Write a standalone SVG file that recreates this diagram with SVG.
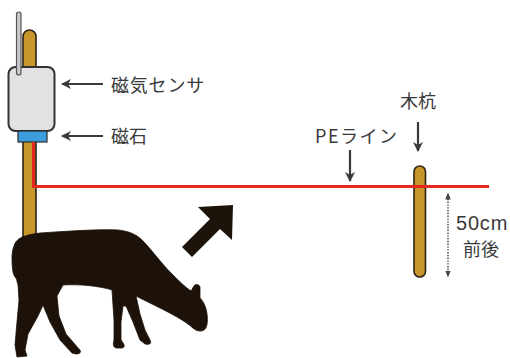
<svg xmlns="http://www.w3.org/2000/svg" width="510" height="358" viewBox="0 0 510 358">
  <defs>
    <style>
      .lbl { font-family: "Noto Sans CJK JP", "Noto Sans", sans-serif; font-size: 18px; fill: #3a3a3a; }
      .num { font-family: "Liberation Sans", Arial, sans-serif; font-size: 20px; fill: #3a3a3a; }
      .wood { fill: #c8952a; stroke: #2e2416; stroke-width: 1.6; }
      .ptr { stroke: #3a3a3a; stroke-width: 2.2; fill: none; marker-end: url(#barb); }
      .wire { stroke: #e4281d; stroke-width: 3; fill: none; }
    </style>
    <marker id="barb" viewBox="0 0 10 10" refX="9" refY="5" markerWidth="4.6" markerHeight="4.6" orient="auto" markerUnits="strokeWidth">
      <path d="M0,0 L10,5 L0,10 L3,5 Z" fill="#3a3a3a"/>
    </marker>
    <marker id="tri" viewBox="0 0 10 10" refX="5" refY="5" markerWidth="7" markerHeight="7" orient="auto-start-reverse" markerUnits="userSpaceOnUse">
      <path d="M0,1 L10,5 L0,9 Z" fill="#444"/>
    </marker>
  </defs>

  <rect width="510" height="358" fill="#ffffff"/>

  <!-- main post, runs down behind the animal -->
  <g id="post">
    <rect class="wood" x="23" y="30" width="13" height="220" rx="6.5"/>
  </g>

  <!-- sensor housing and antenna -->
  <g id="sensor">
    <rect x="8.5" y="67" width="46" height="64" rx="7" fill="#e2e2e4" stroke="#333" stroke-width="2"/>
    <rect x="16.5" y="12" width="4.5" height="63" rx="2.25" fill="#c9c9cb" stroke="#555" stroke-width="1.2"/>
  </g>

  <!-- magnet under the sensor -->
  <g id="magnet">
    <rect x="18" y="131" width="29" height="11" fill="#3b9ddb" stroke="#2a2a2a" stroke-width="1.2"/>
  </g>

  <!-- wooden stake -->
  <g id="stake">
    <rect class="wood" x="414" y="166" width="11.5" height="111" rx="5.75"/>
  </g>

  <!-- PE line from magnet down and across to the stake, plus pointers -->
  <g id="connectors">
    <path class="wire" d="M33.5,142 V186.5 H489"/>
    <path class="ptr" d="M103,84 H62"/>
    <path class="ptr" d="M103,136 H62"/>
    <path class="ptr" d="M350,150 V181"/>
    <path class="ptr" d="M418,122 V151"/>
    <path d="M448,196 V274" stroke="#555" stroke-width="1.6" stroke-dasharray="1.4 1.4" fill="none" marker-start="url(#tri)" marker-end="url(#tri)"/>
  </g>

  <!-- direction arrow -->
  <g id="move-arrow">
    <polygon points="233,205 198,207 210,219 182,247 192,257 220,229 232,240" fill="#1c140a"/>
  </g>

  <!-- grazing deer silhouette -->
  <g id="deer">
    <path fill="#1c1209" stroke="#1c1209" stroke-width="0.8" stroke-linejoin="round" d="M14,246 C16,238 24,235 40,233 C70,231 100,229 118,230 C128,231 136,234 142,240 C152,250 160,262 172,274 C179,281 185,287 191,291 L194,286 C195,284 199,284 200,287 L200,298 C203,301 206,306 207,314 C208,322 207,328 204,330 C201,332 196,331 193,328 C184,320 170,313 158,307 C150,303 142,299 136,296 L140,314 L145,330 L150,340 C152,344 149,345 145,344 L140,340 L133,322 L126,306 L123,306 L121,322 L121,340 C124,344 126,347 122,348 L116,348 C113,347 113,344 114,340 L114,320 L112,290 C100,286 80,284 63,285 L57,296 L59,316 L66,334 L79,349 C82,352 80,354 76,354 L72,353 L60,340 L50,322 L43,305 L38,316 L28,334 L25,350 L27,356 L17,357 L15,345 L17,322 L19,300 L18,285 C17,282 17,280 16,278 C13,276 12,268 12,258 C12,252 13,248 14,246 Z"/>
  </g>

  <!-- labels -->
  <g id="labels">
    <text class="lbl" x="111" y="92" letter-spacing="0.8">磁気センサ</text>
    <text class="lbl" x="111" y="143">磁石</text>
    <text class="lbl" x="315" y="143" letter-spacing="1.5">PEライン</text>
    <text class="lbl" x="400" y="108">木杭</text>
    <text class="num" x="456" y="230" letter-spacing="0.8">50cm</text>
    <text class="lbl" x="463" y="256">前後</text>
  </g>
</svg>
